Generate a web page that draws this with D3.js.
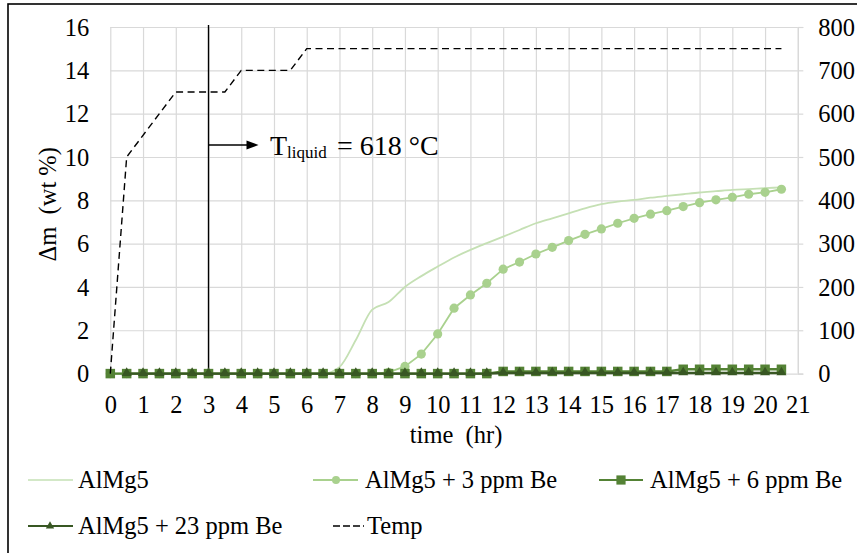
<!DOCTYPE html>
<html>
<head>
<meta charset="utf-8">
<script src="https://cdn.jsdelivr.net/npm/d3@7"></script>
<style>
  html, body { margin: 0; padding: 0; background: #fff; }
  svg { display: block; }
</style>
</head>
<body>
<svg id="chart" width="857" height="553"></svg>
<script>
// Sampling times (hr) for the mass-gain measurements
const times = [0, 0.5, 1, 1.5, 2, 2.5, 3, 3.5, 4, 4.5, 5, 5.5, 6, 6.5,
  7, 7.5, 8, 8.5, 9, 9.5, 10, 10.5, 11, 11.5, 12, 12.5, 13, 13.5,
  14, 14.5, 15, 15.5, 16, 16.5, 17, 17.5, 18, 18.5, 19, 19.5, 20, 20.5];

// Mass gain Δm (wt %) per alloy
const alMg5 = [0, 0, 0, 0, 0, 0, 0, 0, 0, 0, 0, 0, 0, 0,
  0.3, 1.55, 2.95, 3.3, 4.0, 4.5, 4.94, 5.36, 5.71, 6.02, 6.32, 6.63, 6.94, 7.17,
  7.40, 7.63, 7.82, 7.94, 8.02, 8.12, 8.2, 8.28, 8.36, 8.42, 8.48, 8.52, 8.56, 8.6];
const alMg5Be3 = [0, 0, 0, 0, 0, 0, 0, 0, 0, 0, 0, 0, 0, 0,
  0, 0, 0, 0.06, 0.33, 0.9, 1.83, 3.02, 3.63, 4.17, 4.82, 5.15, 5.52, 5.83,
  6.14, 6.43, 6.68, 6.94, 7.17, 7.36, 7.52, 7.71, 7.89, 8.02, 8.14, 8.28, 8.37, 8.51];
const alMg5Be6 = [0, 0, 0, 0, 0, 0, 0, 0, 0, 0, 0, 0, 0, 0,
  0, 0, 0, 0, 0, 0, 0, 0, 0, 0, 0.1, 0.1, 0.1, 0.1,
  0.1, 0.1, 0.1, 0.1, 0.1, 0.1, 0.1, 0.2, 0.2, 0.2, 0.2, 0.2, 0.2, 0.2];
const alMg5Be23 = [null, 0, 0, 0, 0, 0, 0, 0, 0, 0, 0, 0, 0, 0,
  0, 0, 0, 0, 0, 0, 0, 0, 0, 0, 0.03, 0.03, 0.03, 0.03,
  0.03, 0.03, 0.03, 0.03, 0.03, 0.03, 0.03, 0.03, 0.03, 0.03, 0.03, 0.03, 0.03, 0.03];

// Furnace temperature program (°C, right axis)
const tempTimes = [0, 0.5, 2, 3.5, 4, 5.5, 6, 20.5];
const tempValues = [0, 500, 650, 650, 700, 700, 750, 750];

// Axis ticks
const xTicks = [0, 1, 2, 3, 4, 5, 6, 7, 8, 9, 10, 11, 12, 13, 14, 15, 16, 17, 18, 19, 20, 21];
const yTicks = [0, 2, 4, 6, 8, 10, 12, 14, 16];
const y2Ticks = [0, 100, 200, 300, 400, 500, 600, 700, 800];

// Liquidus marker
const liquidusTime = 3;
const liquidusLabel = "618 °C";

const seriesNames = ["AlMg5", "AlMg5 + 3 ppm Be", "AlMg5 + 6 ppm Be", "AlMg5 + 23 ppm Be", "Temp"];
const colors = { a: "#C5E0B4", b: "#A9D18E", c: "#548235", d: "#385723", temp: "#000" };

const FONT = "'Liberation Serif', 'DejaVu Serif', serif";
const fontSize = 24.5;

const svg = d3.select("#chart").attr("font-family", FONT);
const W = 857, H = 553;
const plot = { left: 110.3, right: 797.8, top: 27, bottom: 373.6 };

svg.append("rect").attr("width", W).attr("height", H).attr("fill", "#fff");
// chart frame
svg.append("rect").attr("x", 8).attr("y", 4).attr("width", 880).attr("height", 600)
  .attr("fill", "none").attr("stroke", "#000").attr("stroke-width", 1.6);

const x = d3.scaleLinear().domain([0, 21]).range([plot.left, plot.right]);
const y = d3.scaleLinear().domain([0, 16]).range([plot.bottom, plot.top]);
const y2 = d3.scaleLinear().domain([0, 800]).range([plot.bottom, plot.top]);

function styleLabels(sel) {
  sel.attr("font-family", FONT).style("font-family", FONT)
    .style("font-size", fontSize + "px").attr("fill", "#000");
}

// vertical gridlines + bottom labels
const gx = svg.append("g").attr("transform", `translate(0,${plot.bottom})`)
  .call(d3.axisBottom(x).tickValues(xTicks).tickSize(-(plot.bottom - plot.top)).tickPadding(0).tickFormat(d3.format("d")));
gx.attr("font-family", FONT);
gx.select(".domain").remove();
gx.selectAll(".tick line").attr("stroke", "#D9D9D9").attr("stroke-width", 1.2);
gx.selectAll(".tick text").attr("y", 39).attr("dy", null).call(styleLabels);

// horizontal gridlines + left labels
const gy = svg.append("g").attr("transform", `translate(${plot.left},0)`)
  .call(d3.axisLeft(y).tickValues(yTicks).tickSize(-(plot.right - plot.left)).tickPadding(21).tickFormat(d3.format("d")));
gy.attr("font-family", FONT);
gy.select(".domain").remove();
gy.selectAll(".tick line").attr("stroke", "#D9D9D9").attr("stroke-width", 1.2);
gy.selectAll(".tick text").attr("dy", "0.34em").call(styleLabels);

// right axis
const gy2 = svg.append("g").attr("transform", `translate(${plot.right},0)`)
  .call(d3.axisRight(y2).tickValues(y2Ticks).tickSize(5.5).tickPadding(15).tickFormat(d3.format("d")));
gy2.attr("font-family", FONT);
gy2.select(".domain").attr("stroke", "#D9D9D9").attr("stroke-width", 1.2);
gy2.selectAll(".tick line").attr("stroke", "#D9D9D9").attr("stroke-width", 1.2);
gy2.selectAll(".tick text").attr("dy", "0.34em").call(styleLabels);

// axis titles
svg.append("text").attr("x", (plot.left + plot.right) / 2 + 2).attr("y", 443)
  .attr("text-anchor", "middle").call(styleLabels)
  .style("white-space", "pre").text("time  (hr)");
svg.append("text").attr("transform", `translate(56,${(plot.top + plot.bottom) / 2 + 4}) rotate(-90)`)
  .attr("text-anchor", "middle").call(styleLabels)
  .style("white-space", "pre").text("Δm  (wt %)");

// liquidus line and annotation
svg.append("line").attr("x1", x(liquidusTime)).attr("x2", x(liquidusTime))
  .attr("y1", plot.top - 2).attr("y2", plot.bottom)
  .attr("stroke", "#000").attr("stroke-width", 1.4);
const ay = 145;
svg.append("line").attr("x1", x(liquidusTime)).attr("x2", x(liquidusTime) + 40)
  .attr("y1", ay).attr("y2", ay).attr("stroke", "#000").attr("stroke-width", 1.3);
svg.append("path")
  .attr("d", `M${x(liquidusTime) + 50},${ay} L${x(liquidusTime) + 38},${ay - 4.5} L${x(liquidusTime) + 38},${ay + 4.5} Z`)
  .attr("fill", "#000");
const ann = svg.append("text").attr("x", 270).attr("y", 154.5)
  .attr("font-family", FONT).style("font-family", FONT).style("font-size", "28px").attr("fill", "#000")
  .style("white-space", "pre");
ann.append("tspan").text("T");
ann.append("tspan").attr("dy", 3.5).style("font-size", "17px").text("liquid");
ann.append("tspan").attr("x", 337).attr("y", 154.5).text("= " + liquidusLabel);

// series
const pts = vals => times.map((t, i) => ({ t, v: vals[i] })).filter(d => d.v !== null);
const lineSmooth = d3.line().x(d => x(d.t)).y(d => y(d.v)).curve(d3.curveMonotoneX);
const lineStraight = d3.line().x(d => x(d.t)).y(d => y(d.v));

// AlMg5 (smoothed, no markers)
svg.append("path").datum(pts(alMg5)).attr("d", lineSmooth)
  .attr("fill", "none").attr("stroke", colors.a).attr("stroke-width", 1.8);

// AlMg5 + 3 ppm Be
svg.append("path").datum(pts(alMg5Be3)).attr("d", lineStraight)
  .attr("fill", "none").attr("stroke", colors.b).attr("stroke-width", 1.8);
svg.append("g").selectAll("circle").data(pts(alMg5Be3)).join("circle")
  .attr("cx", d => x(d.t)).attr("cy", d => y(d.v)).attr("r", 4.6).attr("fill", colors.b);

// AlMg5 + 6 ppm Be
svg.append("path").datum(pts(alMg5Be6)).attr("d", lineStraight)
  .attr("fill", "none").attr("stroke", colors.c).attr("stroke-width", 2.4);
const sq = 9.5;
svg.append("g").selectAll("rect").data(pts(alMg5Be6)).join("rect")
  .attr("x", d => x(d.t) - sq / 2).attr("y", d => y(d.v) - sq / 2)
  .attr("width", sq).attr("height", sq).attr("fill", colors.c);

// AlMg5 + 23 ppm Be
svg.append("path").datum(pts(alMg5Be23)).attr("d", lineStraight)
  .attr("fill", "none").attr("stroke", colors.d).attr("stroke-width", 2.4);
const tri = d3.symbol().type(d3.symbolTriangle).size(44);
svg.append("g").selectAll("path").data(pts(alMg5Be23)).join("path")
  .attr("transform", d => `translate(${x(d.t)},${y(d.v) - 0.5})`).attr("d", tri).attr("fill", colors.d);

// Temperature (right axis)
const tempPts = tempTimes.map((t, i) => ({ t, v: tempValues[i] }));
svg.append("path").datum(tempPts)
  .attr("d", d3.line().x(d => x(d.t)).y(d => y2(d.v)))
  .attr("fill", "none").attr("stroke", colors.temp).attr("stroke-width", 1.4)
  .attr("stroke-dasharray", "7,4.5");

// legend
const lg = svg.append("g");
function legendText(tx, ty, label) {
  lg.append("text").attr("x", tx).attr("y", ty).call(styleLabels).text(label);
}
function legendLine(x1, x2, ly, color, w, dash) {
  const l = lg.append("line").attr("x1", x1).attr("x2", x2).attr("y1", ly).attr("y2", ly)
    .attr("stroke", color).attr("stroke-width", w);
  if (dash) l.attr("stroke-dasharray", dash);
}
const r1 = 480, r2 = 526;
legendLine(28, 73, r1, colors.a, 1.6);
legendText(78, r1 + 8.3, seriesNames[0]);

legendLine(313, 358, r1, colors.b, 1.8);
lg.append("circle").attr("cx", 336).attr("cy", r1).attr("r", 4).attr("fill", colors.b);
legendText(365, r1 + 8.3, seriesNames[1]);

legendLine(599, 643, r1, colors.c, 2);
lg.append("rect").attr("x", 621 - 4.6).attr("y", r1 - 4.6).attr("width", 9.2).attr("height", 9.2).attr("fill", colors.c);
legendText(650, r1 + 8.3, seriesNames[2]);

legendLine(28, 73, r2, colors.d, 2);
lg.append("path").attr("transform", `translate(50,${r2})`).attr("d", d3.symbol().type(d3.symbolTriangle).size(30)).attr("fill", colors.d);
legendText(78, r2 + 8.3, seriesNames[3]);

legendLine(333, 364, r2, colors.temp, 1.4, "7,3");
legendText(367, r2 + 8.3, seriesNames[4]);
</script>
</body>
</html>
